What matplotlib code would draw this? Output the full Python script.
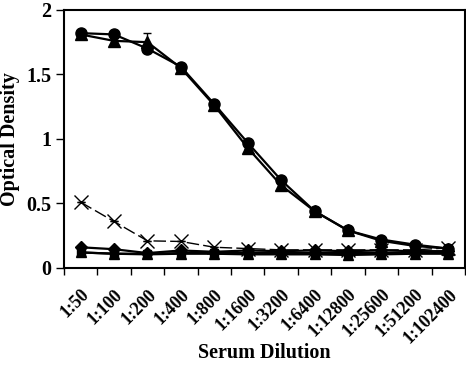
import matplotlib
matplotlib.use("Agg")
import matplotlib.pyplot as plt
import matplotlib.transforms as mtransforms
import numpy as np

plt.rcParams['font.family'] = ['Liberation Serif', 'DejaVu Serif']
plt.rcParams['font.weight'] = 'bold'

categories = ["1:50", "1:100", "1:200", "1:400", "1:800", "1:1600", "1:3200",
              "1:6400", "1:12800", "1:25600", "1:51200", "1:102400"]
circles = [1.82, 1.81, 1.70, 1.56, 1.27, 0.97, 0.68, 0.44, 0.29, 0.22, 0.18, 0.15]
circles_err = [0.01, 0.01, 0.01, 0.02, 0.01, 0.01, 0.01, 0.01, 0.01, 0.01, 0.01, 0.01]
triangles = [1.81, 1.76, 1.75, 1.55, 1.26, 0.93, 0.64, 0.44, 0.29, 0.21, 0.17, 0.15]
triangles_err = [0.01, 0.02, 0.07, 0.02, 0.01, 0.01, 0.01, 0.01, 0.01, 0.01, 0.01, 0.01]
crosses = [0.51, 0.36, 0.21, 0.205, 0.16, 0.15, 0.14, 0.14, 0.14, 0.14, 0.14, 0.155]
crosses_err = [0.0, 0.0, 0.0, 0.0, 0.0, 0.0, 0.0, 0.0, 0.0, 0.0, 0.0, 0.02]
diamonds = [0.16, 0.145, 0.115, 0.135, 0.125, 0.135, 0.13, 0.135, 0.13, 0.135, 0.13, 0.13]
squares = [0.12, 0.11, 0.11, 0.115, 0.115, 0.115, 0.115, 0.115, 0.115, 0.115, 0.115, 0.115]
low_triangles = [0.12, 0.11, 0.105, 0.11, 0.11, 0.105, 0.105, 0.105, 0.10, 0.105, 0.11, 0.11]
low_triangles_err = [0.0, 0.0, 0.0, 0.0, 0.0, 0.01, 0.02, 0.02, 0.02, 0.02, 0.01, 0.02]

fig = plt.figure(figsize=(4.66, 3.67), dpi=100)
ax = fig.add_axes([0.137, 0.270, 0.861, 0.703])

x = np.arange(len(categories))
k = dict(color='black', lw=1.6, capsize=3, elinewidth=1, capthick=1)

ax.errorbar(x, squares, fmt='-s', ms=6, **k)
ax.errorbar(x, low_triangles, yerr=low_triangles_err, fmt='-^', ms=7, **k)
ax.errorbar(x, diamonds, fmt='-D', ms=6, **k)
ax.errorbar(x, crosses, yerr=crosses_err, fmt='--x', ms=10, mew=1, color='black',
            lw=1, dashes=(9, 3), capsize=3, elinewidth=1)
ax.errorbar(x, triangles, yerr=triangles_err, fmt='-^', ms=8, **k)
ax.errorbar(x, circles, yerr=circles_err, fmt='-o', ms=8, **k)

ax.set_xlim(-0.5, len(categories) - 0.5)
ax.set_ylim(0, 2)
ax.set_yticks([0, 0.5, 1, 1.5, 2])
ax.set_yticklabels(['0', '0.5', '1', '1.5', '2'], fontsize=14.5, fontweight='bold')
ax.set_xticks(x)
ax.set_xticklabels(categories, rotation=45, ha='right', va='top', rotation_mode='anchor',
                   fontsize=13, fontweight='bold')
offset = mtransforms.ScaledTranslation(-5 / 100, 0, fig.dpi_scale_trans)
for lab in ax.get_xticklabels():
    lab.set_transform(lab.get_transform() + offset)
ax.set_xticks(np.arange(len(categories) + 1) - 0.5, minor=True)
ax.tick_params(axis='x', which='major', length=0, pad=13)
ax.tick_params(axis='x', which='minor', length=5, width=1, direction='out')
ax.tick_params(axis='y', length=6, width=1, direction='out', pad=3)
for s in ax.spines.values():
    s.set_linewidth(1.5)

ax.set_ylabel('Optical Density', fontsize=14.5, fontweight='bold', va='center')
ax.yaxis.set_label_coords(-0.135, 0.5)
ax.set_xlabel('Serum Dilution', fontsize=14.5, fontweight='bold', va='center')
ax.xaxis.set_label_coords(0.5, -0.33)

fig.savefig('out.png', dpi=100)
